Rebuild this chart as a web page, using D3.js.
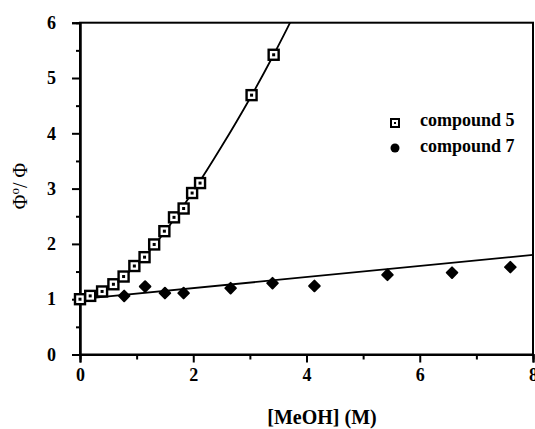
<!DOCTYPE html>
<html>
<head>
<meta charset="utf-8">
<script src="https://cdn.jsdelivr.net/npm/d3@7"></script>
<style>
	body { margin: 0; background: #fff; }
	text { font-family: "Liberation Serif", "Times New Roman", serif; font-weight: bold; fill: #000; }
</style>
</head>
<body>
<div id="chart"></div>
<script>
// compound 5 (open squares)
var meoh5 = [0, 0.18, 0.39, 0.59, 0.77, 0.96, 1.14, 1.31, 1.49, 1.66, 1.83, 1.98, 2.12, 3.03, 3.42]
var ratio5 = [1.0, 1.06, 1.14, 1.27, 1.41, 1.60, 1.76, 1.99, 2.23, 2.48, 2.64, 2.92, 3.10, 4.69, 5.42]
// compound 7 (filled diamonds)
var meoh7 = [0, 0.78, 1.15, 1.50, 1.83, 2.66, 3.40, 4.14, 5.43, 6.57, 7.60]
var ratio7 = [1.0, 1.06, 1.23, 1.11, 1.11, 1.20, 1.29, 1.24, 1.44, 1.48, 1.58]
// fitted curves as drawn
var fit5x = [0, 0.5, 1.0, 1.5, 2.0, 2.5, 3.0, 3.42, 3.71, 3.9]
var fit5y = [1.0, 1.21, 1.62, 2.22, 2.95, 3.76, 4.63, 5.42, 6.0, 6.4]
var fit7x = [0, 8]
var fit7y = [1.0, 1.8]

var xTicks = [0, 2, 4, 6, 8]
var xMinor = [1, 3, 5, 7]
var yTicks = [0, 1, 2, 3, 4, 5, 6]
var yMinor = [0.5, 1.5, 2.5, 3.5, 4.5, 5.5]
var legendLabels = ['compound 5', 'compound 7']

var drawChart = function () {
	var width = 535, height = 429
	var pLeft = 80, pRight = 533, pTop = 22.7, pBottom = 354.5

	var svg = d3.select('#chart').append('svg').attr('width', width).attr('height', height)

	var x = d3.scaleLinear().domain([0, 8]).range([pLeft, pRight])
	var y = d3.scaleLinear().domain([0, 6]).range([pBottom, pTop])

	svg.append('clipPath').attr('id', 'clip').append('rect')
		.attr('x', pLeft).attr('y', pTop).attr('width', pRight - pLeft).attr('height', pBottom - pTop)

	// frame
	svg.append('rect').attr('x', pLeft).attr('y', pTop).attr('width', pRight - pLeft).attr('height', pBottom - pTop)
		.attr('fill', 'none').attr('stroke', '#000').attr('stroke-width', 2)

	// axes
	svg.append('g').attr('transform', 'translate(0,' + pBottom + ')')
		.call(d3.axisBottom(x).tickValues(xTicks).tickFormat(d3.format('d')).tickSize(8).tickPadding(6))
	svg.append('g').attr('transform', 'translate(0,' + pBottom + ')')
		.call(d3.axisBottom(x).tickValues(xMinor).tickFormat('').tickSize(5))
	svg.append('g').attr('transform', 'translate(' + pLeft + ',0)')
		.call(d3.axisLeft(y).tickValues(yTicks).tickFormat(d3.format('d')).tickSize(8).tickPadding(16))
	svg.append('g').attr('transform', 'translate(' + pLeft + ',0)')
		.call(d3.axisLeft(y).tickValues(yMinor).tickFormat('').tickSize(4))

	svg.selectAll('.domain').attr('stroke-width', 2)
	svg.selectAll('.tick line').attr('stroke-width', 2)
	svg.selectAll('.tick text').style('font-size', '18px').style('font-family', '"Liberation Serif", serif').style('font-weight', 'bold')

	// fit lines
	var line = d3.line().x(function(d) { return x(d[0]) }).y(function(d) { return y(d[1]) }).curve(d3.curveMonotoneX)
	var plot = svg.append('g').attr('clip-path', 'url(#clip)')
	plot.append('path').datum(d3.zip(fit5x, fit5y)).attr('d', line)
		.attr('fill', 'none').attr('stroke', '#000').attr('stroke-width', 1.8)
	plot.append('path').datum(d3.zip(fit7x, fit7y)).attr('d', line)
		.attr('fill', 'none').attr('stroke', '#000').attr('stroke-width', 1.8)

	// compound 7 diamonds (rounded, rotated squares)
	svg.selectAll('.p7').data(d3.zip(meoh7, ratio7)).enter().append('path')
		.attr('class', 'p7')
		.attr('d', d3.symbol().type(d3.symbolSquare).size(56))
		.attr('transform', function(d) { return 'translate(' + x(d[0]) + ',' + y(d[1]) + ') rotate(45)' })
		.attr('fill', '#000').attr('stroke', '#000').attr('stroke-width', 2).attr('stroke-linejoin', 'round')

	// compound 5 squares
	var sq = svg.selectAll('.p5').data(d3.zip(meoh5, ratio5)).enter().append('g')
		.attr('class', 'p5')
		.attr('transform', function(d) { return 'translate(' + x(d[0]) + ',' + y(d[1]) + ')' })
	sq.append('rect').attr('x', -5).attr('y', -5).attr('width', 10).attr('height', 10)
		.attr('fill', '#fff').attr('stroke', '#000').attr('stroke-width', 2.4)
	sq.append('rect').attr('x', -1.5).attr('y', -1.5).attr('width', 3).attr('height', 3).attr('fill', '#000')

	// legend
	var legend = svg.append('g')
	var l5 = legend.append('g').attr('transform', 'translate(395,123)')
	l5.append('rect').attr('x', -4).attr('y', -4).attr('width', 8).attr('height', 8)
		.attr('fill', '#fff').attr('stroke', '#000').attr('stroke-width', 2)
	l5.append('rect').attr('x', -1).attr('y', -1).attr('width', 2).attr('height', 2).attr('fill', '#000')
	legend.append('circle').attr('cx', 395).attr('cy', 148).attr('r', 4.5).attr('fill', '#000')
	legend.selectAll('.lt').data(legendLabels).enter().append('text')
		.attr('class', 'lt')
		.attr('x', 420).attr('y', function(d, i) { return 126 + i * 25.5 })
		.style('font-size', '18px')
		.text(function(d) { return d })

	// axis titles
	svg.append('text').attr('x', 322).attr('y', 424).attr('text-anchor', 'middle')
		.style('font-size', '20px').text('[MeOH] (M)')
	var yt = svg.append('text').attr('transform', 'translate(27,186) rotate(-90)').attr('text-anchor', 'middle')
		.style('font-size', '20px').style('font-weight', 'normal')
	yt.append('tspan').text('Φ')
	yt.append('tspan').attr('dy', -8).style('font-size', '13px').text('o')
	yt.append('tspan').attr('dy', 8).text('/ Φ')
}

drawChart()
</script>
</body>
</html>
